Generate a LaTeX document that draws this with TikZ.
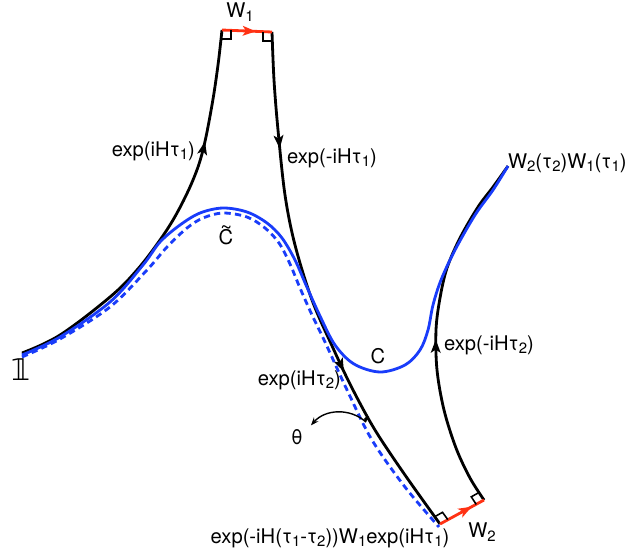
\documentclass[tikz,border=0pt]{standalone}
\usepackage{fontspec}
\setmainfont{TeX Gyre Heros}
\newfontfamily\dejavu{DejaVu Sans}
\usetikzlibrary{arrows, arrows.meta, decorations.markings, calc}

\definecolor{cblue}{RGB}{25,60,250}
\definecolor{cred}{RGB}{255,50,20}
\newcommand{\sbs}[1]{\raisebox{-0.35ex}{\fontsize{8.5}{9}\selectfont #1}}

\begin{document}
\begin{tikzpicture}[
    x=0.02cm, y=-0.02cm,
    blackline/.style={line width=1.6pt, black},
    bluesolid/.style={line width=1.6pt, cblue},
    bluedash/.style={line width=1.6pt, cblue, dash pattern=on 3.6pt off 2.4pt},
    redline/.style={line width=1.6pt, cred},
    corner/.style={line width=0.9pt, black},
    lbl/.style={font=\fontsize{11.5}{13}\selectfont, inner sep=1pt},
    midarrow/.style={postaction={decorate}, decoration={markings, mark=at position #1 with {\arrow{Stealth[length=7.5pt, width=5.5pt, inset=1.8pt]}}}},
    twoarrows/.style 2 args={postaction={decorate}, decoration={markings, mark=at position #1 with {\arrow{Stealth[length=7.5pt, width=5.5pt, inset=1.8pt]}}, mark=at position #2 with {\arrow{Stealth[length=7.5pt, width=5.5pt, inset=1.8pt]}}}}
]
\useasboundingbox (0,0) rectangle (642,555);

% end points
\coordinate (one) at (22,353);
\coordinate (w1a) at (222,30);
\coordinate (w1b) at (272,32);
\coordinate (w2a) at (440,524);
\coordinate (w2b) at (484,500);
\coordinate (fin) at (508,166);

% black path
\draw[blackline, midarrow=0.72] plot[smooth, tension=0.6] coordinates {(one) (60,335) (110,297) (137,270) (160,240) (177,213) (193,180) (203,150) (212,105) (218,65) (w1a)};
\draw[blackline, twoarrows={0.22}{0.66}] plot[smooth, tension=0.55] coordinates {(w1b) (274,80) (278,130) (285,195) (295,245) (312,300) (333,348) (352,388) (375,430) (405,475) (w2a)};
\draw[blackline, midarrow=0.47] plot[smooth, tension=0.55] coordinates {(w2b) (470,478) (456,448) (444,410) (437,370) (436,330) (440,298) (447,268) (460,238) (478,207) (493,187) (fin)};

% W1 and W2
\draw[redline, midarrow=0.68] (w1a) -- (w1b);
\draw[redline, midarrow=0.72] (w2a) -- (w2b);

% right angles
\draw[corner] ($(w1a)+(9,0)$) -- ++(0,9) -- ++(-9,0);
\draw[corner] ($(w1b)+(-9,0)$) -- ++(0,9) -- ++(9,0);
\draw[corner] ($(w2a)+(-5.3,-7.3)$) -- ++(7.8,-4.4) -- ++(5.3,7.3);
\draw[corner] ($(w2b)+(-4.9,-7.6)$) -- ++(-7.8,4.4) -- ++(4.9,7.6);

% contours
\draw[bluesolid] plot[smooth, tension=0.55] coordinates {(22,355) (60,337) (110,302) (143,265) (160,242) (180,225) (200,213) (223,208) (247,212) (267,223) (282,238) (295,260) (306,285) (320,316) (335,345) (354,364) (380,372) (405,365) (420,350) (428,330) (433,305) (441,280) (455,250) (475,215) (493,190) (fin)};
\draw[bluedash] plot[smooth, tension=0.55] coordinates {(22,357) (60,339) (110,307) (147,270) (167,247) (187,228) (203,218) (223,213) (247,217) (265,228) (279,243) (290,264) (300,288) (312,315) (325,342) (348,392) (372,440) (405,487) (439,527)};

% angle
\coordinate (tha) at (366,422);
\fill (tha) ++(-2,-3) arc[start angle=200, end angle=290, radius=4] -- (tha) -- cycle;
\node (theta) [lbl] at (297,437) {θ};
\draw[line width=0.8pt, -{Stealth[length=4.5pt, width=3.5pt]}] (tha) to[bend right=45] ($(theta.north east)+(6,-2)$);

% labels
\node (lone) [lbl, font=\fontsize{17}{19}\selectfont\dejavu] at (21,370) {𝟙};
\node (lw1) [lbl] at (240,12) {W\sbs{1}};
\node (lw2) [lbl] at (482,532) {W\sbs{2}};
\node (le1) [lbl, anchor=east] at (197,151) {exp(iHτ\sbs{1})};
\node (le2) [lbl, anchor=west] at (285,158) {exp(-iHτ\sbs{1})};
\node (le3) [lbl, anchor=east] at (343,380) {exp(iHτ\sbs{2})};
\node (le4) [lbl, anchor=west] at (442,345) {exp(-iHτ\sbs{2})};
\node (lct) [lbl] at (226,235) {C\llap{\raisebox{0.9ex}{\~{}}\hspace{0.6pt}}};
\node (lc) [lbl] at (378,356) {C};
\node (lfin) [lbl, anchor=west] at (506,163) {W\sbs{2}(τ\sbs{2})W\sbs{1}(τ\sbs{1})};
\node (lbot) [lbl] at (330,538) {exp(-iH(τ\sbs{1}-τ\sbs{2}))W\sbs{1}exp(iHτ\sbs{1})};
\end{tikzpicture}
\end{document}
